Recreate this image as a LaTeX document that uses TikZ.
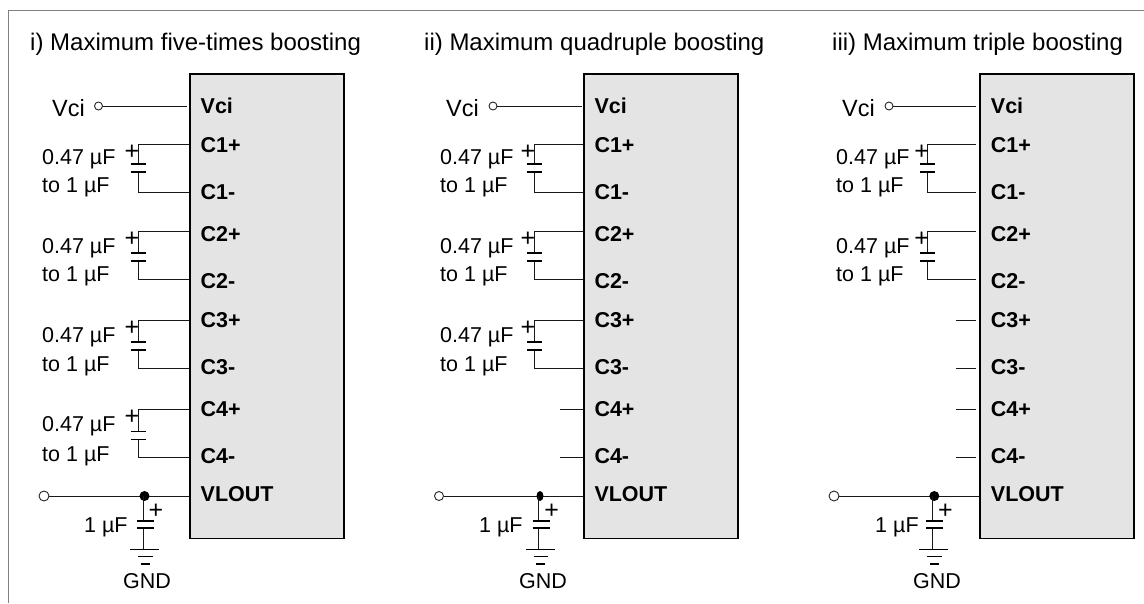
\documentclass[tikz,border=0pt]{standalone}
\usepackage{fontspec}
\setmainfont{Liberation Sans}
\usetikzlibrary{shapes.geometric,calc}
\tikzset{
  x=1pt,y=-1pt,
  frameline/.style={draw=black!50,line width=1.8pt},
  chipbox/.style={draw=black,fill=black!10.5,line width=1.9pt,rectangle,inner sep=0pt,anchor=north west},
  wire/.style={draw=black!90,line width=0.9pt},
  plate/.style={draw=black,line width=1.9pt},
  pinlabel/.style={font=\fontsize{21.5}{24}\selectfont\bfseries,anchor=base west,inner sep=0pt,text=black},
  textlabel/.style={font=\fontsize{21.5}{24}\selectfont,anchor=base west,inner sep=0pt,text=black},
  vcilabel/.style={font=\fontsize{23.5}{26}\selectfont,anchor=base west,inner sep=0pt,text=black},
  titlelabel/.style={font=\fontsize{24}{28}\selectfont,anchor=base west,inner sep=0pt,text=black},
  pluslabel/.style={font=\fontsize{25}{28}\selectfont,inner sep=0pt,anchor=center,text=black},
  openend/.style={circle,draw=black!85,fill=white,line width=0.9pt,minimum width=8pt,minimum height=9pt,inner sep=0pt},
  junction/.style={ellipse,fill=black,inner sep=0pt},
}
% #1 id, #2 wire end x, #3 vertical x, #4 top y, #5 bottom y, #6 top plate y, #7 label x, #8 label top baseline, #9 label bottom baseline
\newcommand{\boostcap}[9]{
  \coordinate (#1a) at (#2,#4);
  \coordinate (#1b) at (#2,#5);
  \coordinate (#1t) at (#3,#6);
  \coordinate (#1u) at (#3,#6+8);
  \coordinate (#1tl) at (#3-7.5,#6);
  \coordinate (#1tr) at (#3+7.5,#6);
  \coordinate (#1ul) at (#3-7.5,#6+8);
  \coordinate (#1ur) at (#3+7.5,#6+8);
  \draw[wire] (#1a) -| (#1t);
  \draw[wire] (#1b) -| (#1u);
  \draw[plate] (#1tl) -- (#1tr);
  \draw[plate] (#1ul) -- (#1ur);
  \node[pluslabel] (#1p) at (#3-6,#4+8) {+};
  \node[textlabel] (#1x) at (#7,#8) {0.47 µF};
  \node[textlabel] (#1y) at (#7,#9) {to 1 µF};
}
\newcommand{\pinstub}[4]{
  \coordinate (#1a) at (#2,#4);
  \coordinate (#1b) at (#3,#4);
  \draw[wire] (#1a) -- (#1b);
}
% #1 id, #2 box left, #3 label x, #4 title x, #5 title, #6 Vci text x, #7 Vci circle x, #8 wire end x
\newcommand{\chipbase}[8]{
  \node[chipbox,minimum width=154pt,minimum height=464.5pt] (#1box) at (#2,73) {};
  \node[titlelabel] (#1title) at (#4,50) {#5};
  \node[pinlabel] (#1l0) at (#3,113) {Vci};
  \node[pinlabel] (#1l1) at (#3,152) {C1+};
  \node[pinlabel] (#1l2) at (#3,199.8) {C1-};
  \node[pinlabel] (#1l3) at (#3,241) {C2+};
  \node[pinlabel] (#1l4) at (#3,288.8) {C2-};
  \node[pinlabel] (#1l5) at (#3,327) {C3+};
  \node[pinlabel] (#1l6) at (#3,374.8) {C3-};
  \node[pinlabel] (#1l7) at (#3,416) {C4+};
  \node[pinlabel] (#1l8) at (#3,463.8) {C4-};
  \node[pinlabel] (#1l9) at (#3,501) {VLOUT};
  \node[vcilabel] (#1vt) at (#6,116) {Vci};
  \node[openend,minimum width=8pt,minimum height=8pt] (#1vc) at (#7,106) {};
  \coordinate (#1ve) at (#8,106);
  \draw[wire] (#1vc) -- (#1ve);
}
% #1 id, #2 open end x, #3 open end width, #4 dot x, #5 dot width, #6 vertical x, #7 wire end x, #8 GND x, #9 1uF x
\newcommand{\outstage}[9]{
  \node[openend,minimum width=#3pt] (#1o) at (#2,496) {};
  \coordinate (#1e) at (#7,496);
  \draw[wire] (#1o) -- (#1e);
  \node[junction,minimum width=#5pt,minimum height=10pt] (#1d) at (#4,496) {};
  \coordinate (#1g) at (#6,549.5);
  \coordinate (#1j) at (#6,496);
  \coordinate (#1pa) at (#6,521);
  \coordinate (#1pb) at (#6,528);
  \draw[wire] (#1j) -- (#1pa);
  \draw[wire] (#1pb) -- (#1g);
  \draw[plate] ($(#1pa)+(-6,0)$) -- ($(#1pa)+(11,0)$);
  \draw[plate] ($(#1pb)+(-6,0)$) -- ($(#1pb)+(11,0)$);
  \draw[plate] ($(#1g)+(-13,0)$) -- ($(#1g)+(16,0)$);
  \draw[plate] ($(#1g)+(-5,7)$) -- ($(#1g)+(9.5,7)$);
  \draw[plate] ($(#1g)+(-2.5,14.5)$) -- ($(#1g)+(6.5,14.5)$);
  \node[pluslabel] (#1p) at ($(#1j)+(13,15)$) {+};
  \node[textlabel] (#1u) at (#9,532.5) {1 µF};
  \node[textlabel,anchor=base] (#1n) at (#8,588) {GND};
}
\begin{document}
\begin{tikzpicture}
\useasboundingbox (0,0) rectangle (1144,603);
\coordinate (fa) at (8.5,603);
\coordinate (fb) at (8.5,10.5);
\coordinate (fc) at (1144,10.5);
\draw[frameline] (fa) -- (fb) -- (fc);

% panel i
\chipbase{a}{189.3}{200.5}{30}{i) Maximum five-times boosting}{52}{98.5}{187}
\boostcap{a1}{189}{138}{144.5}{192.5}{164}{42}{164.3}{192.5}
\boostcap{a2}{189}{138}{231}{279}{252.7}{42}{253}{281.7}
\boostcap{a3}{189}{138}{320}{368}{342}{42}{342.3}{371.7}
\boostcap{a4}{189}{138}{409}{457.5}{431.5}{42}{431.7}{461}
\outstage{a}{44}{10}{144.5}{10}{143}{189}{147}{84}

% panel ii
\chipbase{b}{583}{594.3}{424}{ii) Maximum quadruple boosting}{446}{493}{582}
\boostcap{b1}{583}{534}{144.5}{192.5}{164}{440}{164.3}{192.5}
\boostcap{b2}{583}{534}{231}{279}{252.7}{440}{253}{281.7}
\boostcap{b3}{583}{534}{320}{368}{342}{440}{342.3}{371.7}
\pinstub{b4}{560}{583}{409}
\pinstub{b5}{560}{583}{457.5}
\outstage{b}{439}{7}{540}{7}{538.7}{583}{543}{479}

% panel iii
\chipbase{c}{979}{990.7}{832}{iii) Maximum triple boosting}{842}{889}{976}
\boostcap{c1}{976}{927.7}{144.5}{192.5}{164}{836}{164.3}{192.5}
\boostcap{c2}{976}{927.7}{231}{279}{252.7}{836}{253}{281.7}
\pinstub{c3}{956}{976}{320}
\pinstub{c4}{956}{976}{368}
\pinstub{c5}{956}{976}{409}
\pinstub{c6}{956}{976}{457.5}
\outstage{c}{834}{10}{934.3}{10}{932.3}{979}{937}{875}
\end{tikzpicture}
\end{document}
